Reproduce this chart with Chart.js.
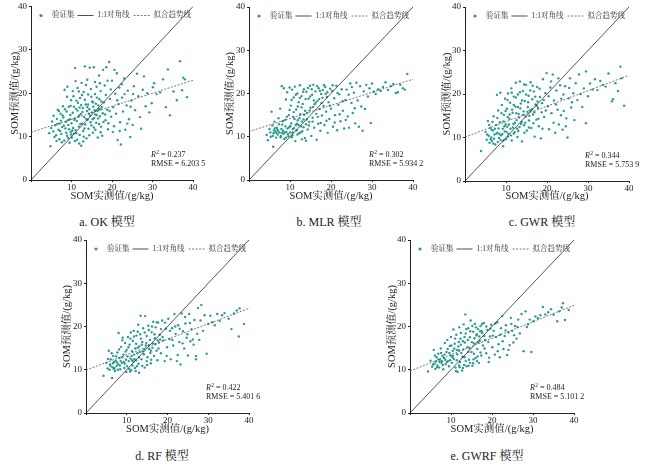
<!DOCTYPE html>
<html>
<head>
<meta charset="utf-8">
<script src="https://cdn.jsdelivr.net/npm/chart.js@4.4.1/dist/chart.umd.min.js"></script>
<style>
    html, body { margin: 0; padding: 0; background: #fff; }
    #page { position: relative; width: 650px; height: 468px; overflow: hidden; background: #fff; }
    .panel { position: absolute; }
    .caption {
        position: absolute;
        font-family: "Liberation Serif", "Noto Serif CJK SC", "Noto Sans CJK SC", serif;
        font-size: 12px;
        line-height: 12px;
        color: #222;
        white-space: nowrap;
        transform: translateX(-50%);
    }
</style>
</head>
<body>
<div id="page"></div>
<script>
// axis ticks shared by both axes
const axisTicks = [0, 10, 20, 30, 40];
const diagLine = [0, 40];

const okPts = [
    [4.5,10.8],[4.8,7.8],[5.2,13.5],[5.5,11.2],[5.8,9.9],[6.0,12.6],[6.2,10.3],[6.4,14.1],[6.6,16.2],[6.8,11.6],
    [7.0,9.4],[7.1,13.0],[7.3,15.3],[7.5,10.6],[7.7,12.2],[7.9,17.0],[8.0,14.4],[8.2,9.1],[8.3,20.8],[8.5,11.9],
    [8.6,13.4],[8.8,15.8],[8.9,10.2],[9.0,21.5],[9.2,12.7],[9.3,16.9],[9.5,8.6],[9.6,14.0],[9.8,11.1],[9.9,18.4],
    [10.0,13.1],[10.1,9.8],[10.3,15.5],[10.4,12.0],[10.5,19.3],[10.6,10.7],[10.8,14.2],[10.9,25.8],[11.0,11.5],[11.1,16.4],
    [11.3,13.6],[11.4,9.3],[11.5,21.2],[11.6,17.8],[11.8,12.3],[11.9,14.9],[12.0,10.4],[12.1,18.9],[12.3,15.2],[12.4,7.9],
    [12.5,22.4],[12.6,13.0],[12.8,16.6],[12.9,11.3],[13.0,20.3],[13.1,14.5],[13.3,26.2],[13.4,12.8],[13.5,17.4],[13.7,9.6],
    [13.8,15.9],[13.9,23.1],[14.0,13.9],[14.1,19.7],[14.2,11.8],[14.4,16.3],[14.5,25.9],[14.6,14.8],[14.8,21.0],[14.9,12.6],
    [15.0,15.6],[15.1,18.1],[15.3,10.9],[15.4,16.9],[15.5,26.0],[15.6,14.3],[15.8,22.6],[15.9,15.1],[16.0,17.6],[16.1,13.2],
    [16.3,19.0],[16.4,15.9],[16.5,9.8],[16.7,16.4],[16.8,24.1],[16.9,18.6],[17.0,14.7],[17.2,20.5],[17.3,12.3],[17.5,16.8],
    [17.6,10.2],[17.8,25.4],[18.0,17.9],[18.2,21.8],[18.4,13.8],[18.6,26.0],[18.8,16.2],[19.0,11.7],[19.3,27.2],[19.5,18.7],
    [19.8,14.6],[20.0,22.9],[20.3,16.8],[20.5,12.4],[20.8,19.9],[21.0,15.3],[21.2,24.6],[21.4,9.2],[21.6,17.5],[21.8,21.3],
    [22.0,13.3],[22.2,8.2],[22.5,19.0],[22.7,15.8],[23.0,23.4],[23.3,11.6],[23.6,17.2],[23.9,20.6],[24.2,14.0],[24.5,9.9],
    [24.8,18.3],[25.1,12.7],[25.4,21.6],[25.7,16.1],[26.2,24.5],[26.5,19.3],[26.9,14.5],[27.2,11.8],[27.6,20.8],[27.9,23.9],
    [28.3,17.0],[28.7,20.0],[29.2,15.6],[29.8,17.7],[30.1,21.4],[30.4,22.3],[31.0,19.8],[31.9,20.2],[32.6,23.2],[33.3,16.8],
    [33.8,25.5],[34.3,14.9],[35.2,20.4],[36.0,18.4],[36.8,27.4],[37.3,20.7],[37.6,23.6],[38.0,23.2],[38.5,19.1],
    [8.1,12.5],[8.7,10.9],[9.1,13.8],[9.4,11.7],[9.7,15.0],[10.2,11.4],[10.7,13.9],[11.2,10.8],[11.7,14.6],[12.2,12.9],
    [12.7,15.7],[13.2,11.9],[13.6,14.1],[14.3,15.3],[14.7,13.3],[15.2,14.0],[15.7,16.1],[16.2,15.0],[16.6,14.2],[17.1,16.3],
    [17.7,15.4],[6.5,12.9],[7.2,11.3],[7.8,14.9],[11.5,16.0],[12.4,17.3],[13.9,16.8],[15.5,12.1],[16.8,12.9],[18.3,15.1],
    [5.0,12.0],[5.6,14.8],[6.3,9.0],[6.9,15.9],[7.4,13.7],[7.6,8.7],[8.4,16.3],[8.9,19.2],[9.2,9.7],[9.8,17.1],
    [10.3,20.5],[10.6,16.9],[11.0,22.8],[11.2,18.3],[11.8,20.4],[12.0,16.7],[12.6,19.6],[12.9,8.9],[13.3,18.5],[13.6,21.9],
    [14.1,17.4],[14.4,10.3],[14.9,19.2],[15.3,17.9],[15.8,19.8],[16.2,21.5],[16.6,17.2],[17.0,22.3],[17.4,18.1],[17.9,13.4],
    [18.5,19.6],[18.9,22.9],[19.4,15.9],[19.7,20.9],[20.2,11.1],[20.6,25.4],[21.3,18.4],[21.9,11.3],[22.4,22.1],[23.1,19.8],
    [23.8,13.0],[24.6,16.9],[25.2,19.8],[11.9,8.4],[10.9,9.0],[9.9,10.5],[13.0,10.0],[15.9,11.6],[17.2,11.0],[19.1,13.1]
];
const mlrPts = [
    [4.3,10.4],[4.6,9.2],[5.0,11.8],[5.3,10.0],[5.5,15.8],[5.7,12.6],[5.9,7.7],[6.0,10.8],[6.2,13.5],[6.4,11.2],
    [6.6,9.8],[6.8,12.1],[7.0,10.5],[7.2,14.3],[7.4,11.0],[7.6,16.5],[7.8,10.2],[8.0,21.7],[8.1,12.8],[8.3,11.4],
    [8.5,21.2],[8.6,9.5],[8.8,13.9],[9.0,18.6],[9.1,11.1],[9.3,20.3],[9.5,10.6],[9.7,15.0],[9.8,12.2],[9.9,21.4],
    [10.0,11.0],[10.2,17.2],[10.3,13.1],[10.5,20.9],[10.6,10.3],[10.8,14.6],[10.9,19.1],[11.0,12.0],[11.2,21.6],[11.3,9.0],
    [11.5,16.3],[11.6,11.5],[11.8,20.0],[11.9,13.8],[12.1,18.0],[12.2,10.8],[12.4,21.9],[12.5,15.2],[12.7,12.4],[12.8,19.4],
    [13.0,11.3],[13.1,17.6],[13.3,14.0],[13.4,21.0],[13.6,9.7],[13.7,16.0],[13.9,12.9],[14.0,20.4],[14.2,15.5],[14.3,11.7],
    [14.5,18.8],[14.7,13.4],[14.9,21.8],[15.0,16.7],[15.2,10.2],[15.4,19.7],[15.5,14.4],[15.7,22.0],[15.9,12.1],[16.0,17.5],
    [16.2,20.5],[16.4,15.3],[16.5,9.3],[16.7,18.3],[16.9,13.0],[17.0,21.2],[17.2,16.4],[17.4,11.4],[17.6,19.9],[17.8,14.9],
    [18.0,20.8],[18.2,17.1],[18.4,12.7],[18.6,21.5],[18.8,15.8],[19.0,19.2],[19.2,10.9],[19.4,18.0],[19.6,14.1],[19.8,21.1],
    [20.0,16.5],[20.3,20.6],[20.5,12.3],[20.8,18.9],[21.0,15.0],[21.3,21.8],[21.5,11.5],[21.8,17.4],[22.0,19.8],[22.3,13.6],
    [22.6,21.0],[22.9,16.0],[23.2,11.9],[23.5,18.5],[23.8,20.9],[24.1,14.7],[24.4,12.1],[24.7,22.3],[25.0,17.8],[25.3,15.5],
    [25.6,20.2],[25.9,13.1],[26.2,22.5],[26.5,18.4],[26.8,12.3],[27.1,21.7],[27.4,17.0],[27.7,11.4],[28.0,20.5],[28.3,16.4],
    [28.6,22.0],[29.0,19.3],[29.4,21.2],[29.7,13.2],[30.0,22.3],[30.4,20.4],[30.9,19.9],[31.5,21.0],[32.1,20.6],[32.7,21.5],
    [33.3,22.6],[33.9,20.8],[34.6,21.7],[35.2,22.2],[35.8,20.1],[36.3,20.3],[36.9,22.0],[37.5,21.2],[38.0,20.9],[38.6,24.5],
    [6.9,11.7],[7.3,12.9],[7.9,11.8],[8.4,10.7],[8.9,12.4],[9.4,11.9],[10.1,12.5],[10.7,11.8],[11.1,14.1],[11.7,13.0],
    [12.3,14.3],[12.9,13.5],[13.5,15.1],[14.1,14.0],[14.8,16.1],[15.6,16.9],[16.3,17.9],[17.1,18.7],[17.9,19.0],[18.7,19.9],
    [9.6,10.1],[10.4,9.9],[11.4,12.7],[12.6,11.0],[6.1,11.5],
    [5.2,11.0],[5.8,10.2],[6.3,12.0],[6.7,10.9],[7.1,11.4],[7.7,9.9],[8.2,13.6],[8.7,11.0],[9.2,14.6],[9.9,16.2],
    [10.4,18.5],[10.9,15.7],[11.4,19.7],[11.9,17.0],[12.4,19.0],[12.8,16.8],[13.2,20.4],[13.8,18.7],[14.4,21.3],[14.9,19.3],
    [15.3,21.0],[15.8,18.4],[16.6,21.7],[17.3,20.6],[17.7,17.8],[18.3,21.9],[19.1,20.3],[19.7,17.2],[20.4,21.9],[20.9,13.3],
    [21.6,20.1],[22.1,15.2],[22.8,18.2],[23.6,13.9],[24.3,19.7],[25.1,21.5],[25.8,16.6],[8.0,10.9],[9.0,9.8],[10.6,11.0],
    [11.8,10.5],[12.1,12.7],[13.3,12.2],[14.6,12.6],[15.5,13.5],[16.8,14.6],[17.5,13.2],[18.9,13.7],[13.9,9.1],[12.9,9.4]
];
const gwrPts = [
    [3.9,6.9],[5.0,11.3],[5.3,9.5],[5.6,13.8],[5.8,10.4],[6.0,8.8],[6.2,12.2],[6.4,10.0],[6.6,9.2],[6.8,11.6],
    [7.0,14.9],[7.2,10.7],[7.4,8.4],[7.6,12.9],[7.8,19.8],[7.9,11.1],[8.1,16.2],[8.3,9.9],[8.5,13.5],[8.6,20.3],
    [8.8,10.5],[9.0,17.5],[9.2,12.0],[9.3,8.0],[9.5,15.2],[9.7,11.4],[9.8,18.9],[9.9,13.0],[10.0,9.6],[10.2,16.6],
    [10.3,12.5],[10.5,20.1],[10.6,10.9],[10.8,14.3],[11.0,18.0],[11.1,12.0],[11.3,21.3],[11.4,9.3],[11.6,15.7],[11.8,13.1],
    [11.9,19.4],[12.1,11.2],[12.3,17.1],[12.4,22.6],[12.6,14.0],[12.8,10.1],[12.9,19.9],[13.1,15.4],[13.3,12.4],[13.4,22.9],
    [13.6,17.8],[13.8,13.6],[13.9,9.1],[14.1,20.7],[14.3,16.0],[14.4,12.8],[14.6,18.4],[14.8,14.8],[14.9,22.1],[15.1,11.6],
    [15.3,17.0],[15.5,19.6],[15.6,13.9],[15.8,16.2],[16.0,22.7],[16.2,12.2],[16.4,18.8],[16.6,15.3],[16.8,20.6],[17.0,10.2],
    [17.2,17.6],[17.4,14.1],[17.6,21.6],[17.8,16.8],[18.0,12.6],[18.3,19.3],[18.5,9.8],[18.8,17.9],[19.0,23.4],[19.3,14.7],
    [19.6,20.2],[19.9,24.8],[20.2,17.2],[20.5,11.9],[20.8,21.5],[21.1,15.6],[21.4,24.5],[21.7,18.5],[22.0,11.1],[22.3,20.8],
    [22.6,16.4],[22.9,13.0],[23.2,22.0],[23.5,18.9],[23.8,11.8],[24.1,16.1],[24.4,21.8],[24.7,14.4],[25.0,10.0],[25.3,19.0],
    [25.6,23.6],[25.9,16.9],[26.4,20.2],[26.7,14.0],[27.0,22.5],[27.4,18.6],[27.8,24.5],[28.2,20.0],[28.6,17.0],[29.0,21.3],
    [29.5,25.2],[29.5,13.3],[30.0,19.5],[30.5,22.4],[31.1,21.0],[31.7,23.4],[32.3,20.9],[33.0,23.0],[33.6,22.1],[34.3,21.7],
    [35.0,24.7],[35.8,18.3],[36.1,18.8],[36.7,22.5],[37.3,20.7],[37.9,26.3],[38.2,23.6],[38.8,17.3],
    [6.5,11.8],[7.1,9.7],[7.7,10.9],[8.2,12.1],[8.7,9.4],[9.1,10.8],[9.6,12.6],[10.1,11.3],[10.7,13.0],[11.2,10.5],
    [11.7,12.3],[12.2,13.4],[12.7,12.0],[13.2,14.6],[13.7,13.1],[14.2,15.2],[14.7,13.4],[15.2,15.9],[15.7,15.0],[16.3,16.5],
    [16.9,15.8],[17.5,17.3],[10.4,14.7],[11.5,16.4],[12.5,15.6],[13.5,16.7],
    [5.4,10.7],[5.9,12.9],[6.3,9.6],[6.7,13.6],[7.3,12.0],[7.9,14.5],[8.4,10.8],[8.9,15.6],[9.4,13.7],[9.9,16.1],
    [10.4,18.6],[10.9,15.3],[11.4,20.3],[11.9,17.5],[12.4,19.2],[12.9,17.0],[13.4,20.4],[13.9,18.5],[14.4,22.2],[14.9,19.9],
    [15.4,18.1],[15.9,20.8],[16.5,21.9],[17.1,19.4],[17.7,18.3],[18.2,21.2],[18.7,15.8],[19.2,18.6],[19.7,16.2],[20.4,19.5],
    [21.0,22.9],[21.6,13.4],[22.2,17.6],[22.8,23.6],[23.4,15.1],[24.0,19.9],[24.6,12.6],[25.4,21.4],[26.1,18.1],[6.9,8.6],
    [8.0,9.0],[9.4,9.3],[10.5,10.2],[11.9,10.9],[13.0,11.5],[14.5,11.1],[15.6,12.3],[16.7,13.3],[17.9,14.3],[18.9,12.0]
];
const rfPts = [
    [4.3,8.6],[5.0,11.6],[5.3,10.3],[5.6,14.4],[5.9,11.2],[6.1,12.4],[6.4,8.1],[6.5,10.6],[6.7,13.2],[6.9,11.8],
    [7.1,9.7],[7.3,12.1],[7.5,10.9],[7.7,14.0],[7.9,11.3],[8.0,18.5],[8.2,12.7],[8.4,10.1],[8.6,15.3],[8.8,11.6],
    [9.0,17.4],[9.2,13.5],[9.4,10.4],[9.6,16.2],[9.8,12.3],[10.0,14.6],[10.1,10.8],[10.3,17.6],[10.5,12.0],[10.7,15.8],
    [10.8,9.6],[11.0,18.6],[11.2,13.2],[11.4,11.0],[11.5,16.7],[11.7,19.0],[11.9,12.5],[12.1,14.9],[12.2,9.7],[12.4,17.9],
    [12.6,13.8],[12.8,20.4],[12.9,11.4],[13.1,15.4],[13.3,18.2],[13.4,22.5],[13.6,12.4],[13.8,16.4],[14.0,19.6],[14.2,13.6],
    [14.4,10.5],[14.5,22.4],[14.7,15.6],[14.9,17.8],[15.1,12.9],[15.3,20.2],[15.5,14.8],[15.7,16.9],[15.9,11.5],[16.1,18.7],
    [16.3,15.1],[16.5,21.1],[16.7,13.2],[16.9,17.3],[17.1,19.8],[17.3,14.4],[17.5,12.2],[17.7,20.9],[17.9,16.3],[18.1,18.1],
    [18.4,13.8],[18.7,21.4],[19.0,16.8],[19.3,12.0],[19.6,19.5],[19.9,15.2],[20.2,21.8],[20.5,17.1],[20.8,12.4],[21.1,19.6],
    [21.4,15.6],[21.7,22.9],[22.0,18.3],[22.3,12.0],[22.6,20.3],[22.9,16.4],[23.2,11.2],[23.5,23.0],[23.8,18.9],[24.1,14.9],
    [24.4,20.7],[24.7,17.4],[25.0,13.3],[25.3,22.9],[25.6,16.6],[25.9,19.4],[26.2,17.0],[26.6,21.5],[27.0,12.4],[27.0,13.2],
    [27.3,18.3],[27.5,24.3],[27.8,16.9],[28.1,21.4],[28.3,25.0],[28.7,19.0],[29.1,22.6],[29.6,13.7],[30.0,20.6],[30.5,22.5],
    [31.0,21.0],[31.6,20.3],[32.2,22.9],[32.8,21.3],[33.4,22.6],[34.0,23.1],[35.0,21.8],[35.7,19.4],[36.3,23.0],[37.0,23.7],
    [37.5,17.7],[37.7,24.2],[38.8,20.6],
    [6.0,10.9],[6.8,10.2],[7.6,11.7],[8.3,11.0],[8.9,12.9],[9.5,11.4],[10.2,13.1],[10.9,12.6],[11.3,14.3],[11.8,13.5],
    [12.3,12.2],[12.7,15.1],[13.2,14.1],[13.7,15.8],[14.3,14.8],[14.8,16.2],[15.4,15.7],[15.9,14.4],[16.4,16.1],[17.0,15.9],
    [17.6,16.8],[18.2,17.0],[10.6,10.2],[11.6,11.9],[12.5,10.8],
    [5.4,12.5],[5.8,10.0],[6.3,13.8],[6.6,11.5],[7.0,10.4],[7.4,13.1],[7.8,10.0],[8.1,14.7],[8.5,12.0],[8.9,16.8],
    [9.3,11.8],[9.7,14.2],[10.4,15.2],[10.9,17.2],[11.3,12.2],[11.8,17.7],[12.3,16.0],[12.7,18.8],[13.0,12.9],[13.5,17.2],
    [13.9,14.3],[14.4,18.6],[14.9,12.0],[15.4,19.2],[15.8,13.9],[16.2,20.0],[16.8,18.2],[17.4,21.0],[17.8,14.9],[18.4,19.4],
    [18.8,17.6],[19.4,20.9],[19.8,13.2],[20.6,19.0],[21.2,16.9],[21.9,20.0],[22.5,13.4],[23.0,19.5],[23.7,16.1],[24.3,22.2],
    [24.9,18.2],[25.5,20.8],[26.4,15.8],[9.9,9.5],[11.1,9.9],[12.0,10.4],[13.0,9.3],[13.8,10.9],[15.0,11.1],[16.0,12.3]
];
const gwrfPts = [
    [4.4,9.6],[5.0,12.1],[5.4,10.7],[5.8,14.6],[6.0,11.4],[6.2,10.2],[6.5,12.9],[6.7,11.0],[6.9,13.7],[7.1,10.5],
    [7.3,12.3],[7.5,14.9],[7.7,11.6],[7.9,13.2],[8.1,10.1],[8.3,12.7],[8.5,16.2],[8.7,11.3],[8.9,14.1],[9.1,16.9],
    [9.3,12.0],[9.5,10.8],[9.7,15.5],[9.9,13.3],[10.0,17.6],[10.2,11.6],[10.4,14.4],[10.6,19.3],[10.7,12.5],[10.9,16.0],
    [11.1,10.5],[11.3,18.1],[11.5,13.6],[11.6,9.5],[11.8,15.4],[12.0,19.8],[12.2,11.8],[12.3,17.2],[12.5,13.9],[12.7,9.8],
    [12.9,16.6],[13.1,20.5],[13.3,12.9],[13.5,22.8],[13.6,18.4],[13.8,10.8],[14.0,15.3],[14.2,19.6],[14.4,12.3],[14.6,17.5],
    [14.8,21.4],[15.0,14.1],[15.2,10.9],[15.4,18.8],[15.6,16.1],[15.8,20.6],[16.0,12.7],[16.2,17.9],[16.4,14.8],[16.6,19.4],
    [16.8,11.6],[17.0,16.7],[17.2,20.1],[17.4,13.3],[17.6,18.5],[17.8,15.6],[18.0,20.8],[18.3,16.9],[18.6,13.8],[18.9,19.2],
    [19.2,11.8],[19.5,17.7],[19.8,20.4],[20.1,15.2],[20.4,19.0],[20.7,13.5],[21.0,17.6],[21.3,21.0],[21.6,15.9],[21.9,12.9],
    [22.2,19.6],[22.5,22.4],[22.8,14.8],[23.1,17.8],[23.4,20.3],[23.7,13.4],[24.0,18.6],[24.3,15.7],[24.6,22.0],[24.9,19.0],
    [25.2,16.3],[25.6,20.1],[26.0,17.2],[26.4,21.6],[26.8,18.4],[27.2,22.9],[27.7,14.3],[28.2,23.5],[28.5,19.9],[28.8,20.5],
    [29.2,21.6],[29.6,14.1],[30.1,21.2],[30.6,22.3],[31.2,21.9],[31.8,22.6],[32.4,24.5],[33.0,22.8],[33.7,23.3],[34.4,24.0],
    [35.0,22.7],[35.9,21.2],[36.4,23.5],[37.0,24.4],[37.3,25.4],[37.8,21.5],[38.7,23.8],
    [6.3,11.9],[7.0,12.4],[7.8,12.0],[8.4,13.5],[9.0,11.8],[9.6,13.9],[10.3,12.9],[10.8,14.9],[11.4,12.2],[11.9,14.5],
    [12.4,15.8],[13.0,14.7],[13.4,16.3],[14.1,16.9],[14.5,15.0],[15.1,16.4],[15.7,17.3],[16.3,18.2],[16.9,17.7],[17.5,18.9],
    [12.1,10.6],[13.2,11.1],[14.3,10.9],[15.5,12.4],[16.5,13.1],
    [5.6,11.2],[6.1,13.3],[6.6,10.6],[7.2,11.8],[7.6,13.9],[8.0,11.1],[8.6,12.3],[9.2,14.8],[9.8,12.2],[10.1,15.6],
    [10.5,13.2],[11.0,17.2],[11.4,14.6],[11.9,16.4],[12.4,18.5],[12.8,13.0],[13.3,17.6],[13.7,19.4],[14.2,14.1],[14.7,18.9],
    [15.2,20.1],[15.6,13.7],[16.1,19.8],[16.6,16.3],[17.1,18.9],[17.6,20.6],[18.1,17.8],[18.6,20.0],[19.1,16.4],[19.6,19.5],
    [20.2,17.9],[20.8,20.7],[21.4,14.3],[22.0,18.1],[22.6,16.6],[23.3,19.1],[24.0,14.6],[24.7,20.6],[25.4,18.0],[26.2,19.9],
    [11.2,9.7],[12.0,11.0],[12.9,10.4],[13.6,12.0],[14.6,11.6],[15.4,11.5],[16.3,12.0],[17.2,14.0],[18.2,14.9],[19.3,12.8]
];

// fitted trend line: predicted value at x = 0 and x = 40
const okTrend = [11.0, 23.0];
const mlrTrend = [11.2, 23.3];
const gwrTrend = [10.1, 24.3];
const rfTrend = [9.9, 24.2];
const gwrfTrend = [9.7, 24.9];

const r2Values = ['0.237', '0.302', '0.344', '0.422', '0.484'];
const rmseValues = ['6.203 5', '5.934 2', '5.753 9', '5.401 6', '5.101 2'];
const captions = ['a. OK 模型', 'b. MLR 模型', 'c. GWR 模型', 'd. RF 模型', 'e. GWRF 模型'];

const FAMILY = '"Liberation Serif", "Noto Serif CJK SC", "Noto Sans CJK SC", serif';
const TEAL = '#2a9a93';
const INK = '#222';

// where each panel sits on the page
const layouts = [
    {box: [0, 0, 215, 203], area: [31, 193, 6, 180], yTitleX: 15, cap: [107, 216]},
    {box: [215, 0, 215, 203], area: [249, 413, 7, 180], yTitleX: 230, cap: [329, 216]},
    {box: [430, 0, 220, 203], area: [465, 629, 7, 181], yTitleX: 447, cap: [542, 216]},
    {box: [55, 230, 240, 206], area: [86, 249, 240, 413], yTitleX: 67, cap: [162, 450]},
    {box: [380, 230, 240, 206], area: [410, 574, 240, 413], yTitleX: 392, cap: [487, 450]}
];
const pointSets = [okPts, mlrPts, gwrPts, rfPts, gwrfPts];
const trends = [okTrend, mlrTrend, gwrTrend, rfTrend, gwrfTrend];

// legend + R2/RMSE text inside the plot
const overlayPlugin = {
    id: 'overlay',
    afterDraw(chart, args, opts) {
        const ctx = chart.ctx;
        const a = chart.chartArea;
        const ds = chart.data.datasets;
        ctx.save();
        ctx.textBaseline = 'middle';
        ctx.textAlign = 'left';

        // legend row
        const ly = a.top + 9;
        ctx.fillStyle = TEAL;
        ctx.beginPath();
        ctx.arc(a.left + 10, ly, 1.6, 0, Math.PI * 2);
        ctx.fill();

        ctx.font = '7.5px ' + FAMILY;
        ctx.fillStyle = '#333';
        let x = a.left + 21;
        ctx.fillText(ds[2].label, x, ly);
        x += ctx.measureText(ds[2].label).width + 3;

        ctx.strokeStyle = '#222';
        ctx.lineWidth = 0.8;
        ctx.beginPath();
        ctx.moveTo(x, ly);
        ctx.lineTo(x + 16, ly);
        ctx.stroke();
        x += 20;
        ctx.fillText(ds[0].label, x, ly);
        x += ctx.measureText(ds[0].label).width + 4;

        ctx.strokeStyle = '#555';
        ctx.setLineDash([2, 1.5]);
        ctx.beginPath();
        ctx.moveTo(x, ly);
        ctx.lineTo(x + 16, ly);
        ctx.stroke();
        ctx.setLineDash([]);
        x += 20;
        ctx.fillText(ds[1].label, x, ly);

        // statistics
        const sx = a.left + 120;
        const sy = a.bottom - 25;
        ctx.fillStyle = INK;
        ctx.font = 'italic 8px ' + FAMILY;
        ctx.fillText('R', sx, sy);
        const rw = ctx.measureText('R').width;
        ctx.font = '5.5px ' + FAMILY;
        ctx.fillText('2', sx + rw + 0.3, sy - 2.5);
        ctx.font = '8px ' + FAMILY;
        ctx.fillText(' = ' + opts.r2, sx + rw + 3.2, sy);
        ctx.fillText('RMSE = ' + opts.rmse, sx, sy + 9);
        ctx.restore();
    }
};

const page = document.getElementById('page');

function drawPanel(i) {
    const lay = layouts[i];
    const [bx, by, bw, bh] = lay.box;
    const [al, ar, at, ab] = lay.area;

    const wrap = document.createElement('div');
    wrap.className = 'panel';
    wrap.style.left = bx + 'px';
    wrap.style.top = by + 'px';
    wrap.style.width = bw + 'px';
    wrap.style.height = bh + 'px';
    const canvas = document.createElement('canvas');
    wrap.appendChild(canvas);
    page.appendChild(wrap);

    const cap = document.createElement('div');
    cap.className = 'caption';
    cap.textContent = captions[i];
    cap.style.left = lay.cap[0] + 'px';
    cap.style.top = lay.cap[1] + 'px';
    page.appendChild(cap);

    const tickFont = {family: FAMILY, size: 9, lineHeight: 1};
    const titleFont = {family: FAMILY, size: 10.5, lineHeight: 1.2};
    const setTicks = scale => { scale.ticks = axisTicks.map(v => ({value: v})); };
    const lo = axisTicks[0];
    const hi = axisTicks[axisTicks.length - 1];

    new Chart(canvas, {
        type: 'scatter',
        data: {
            datasets: [{
                label: '1:1对角线',
                data: diagLine.map(v => ({x: v, y: v})),
                showLine: true,
                borderColor: '#2a2a2a',
                borderWidth: 0.8,
                pointRadius: 0
            }, {
                label: '拟合趋势线',
                data: [{x: lo, y: trends[i][0]}, {x: hi, y: trends[i][1]}],
                showLine: true,
                borderColor: '#555',
                borderWidth: 0.8,
                borderDash: [2, 1.5],
                pointRadius: 0
            }, {
                label: '验证集',
                data: pointSets[i].map(p => ({x: p[0], y: p[1]})),
                pointRadius: 1.2,
                pointBackgroundColor: TEAL,
                pointBorderWidth: 0
            }]
        },
        options: {
            responsive: true,
            maintainAspectRatio: false,
            animation: false,
            events: [],
            layout: {
                padding: {left: 0, top: at - by, right: bx + bw - ar, bottom: 0}
            },
            plugins: {
                legend: {display: false},
                tooltip: {enabled: false},
                overlay: {r2: r2Values[i], rmse: rmseValues[i]}
            },
            scales: {
                x: {
                    type: 'linear',
                    min: lo,
                    max: hi,
                    afterBuildTicks: setTicks,
                    afterFit: scale => { scale.height = by + bh - ab; },
                    ticks: {
                        font: tickFont,
                        color: INK,
                        padding: 1,
                        maxRotation: 0,
                        autoSkip: false,
                        callback: v => (v === 0 ? '' : v)
                    },
                    grid: {drawOnChartArea: false, drawTicks: true, tickLength: 2, color: INK},
                    border: {display: true, color: INK, width: 1},
                    title: {display: true, text: 'SOM实测值/(g/kg)', font: titleFont, color: INK, padding: 0}
                },
                y: {
                    type: 'linear',
                    min: lo,
                    max: hi,
                    afterBuildTicks: setTicks,
                    afterFit: scale => { scale.width = al - bx; },
                    ticks: {font: tickFont, color: INK, padding: 2, autoSkip: false},
                    grid: {drawOnChartArea: false, drawTicks: true, tickLength: 2, color: INK},
                    border: {display: true, color: INK, width: 1},
                    title: {
                        display: true,
                        text: 'SOM预测值/(g/kg)',
                        font: titleFont,
                        color: INK,
                        padding: {top: lay.yTitleX - bx - 6.3, bottom: 0}
                    }
                }
            }
        },
        plugins: [overlayPlugin]
    });
}

for (let i = 0; i < layouts.length; i++) {
    drawPanel(i);
}
</script>
</body>
</html>
